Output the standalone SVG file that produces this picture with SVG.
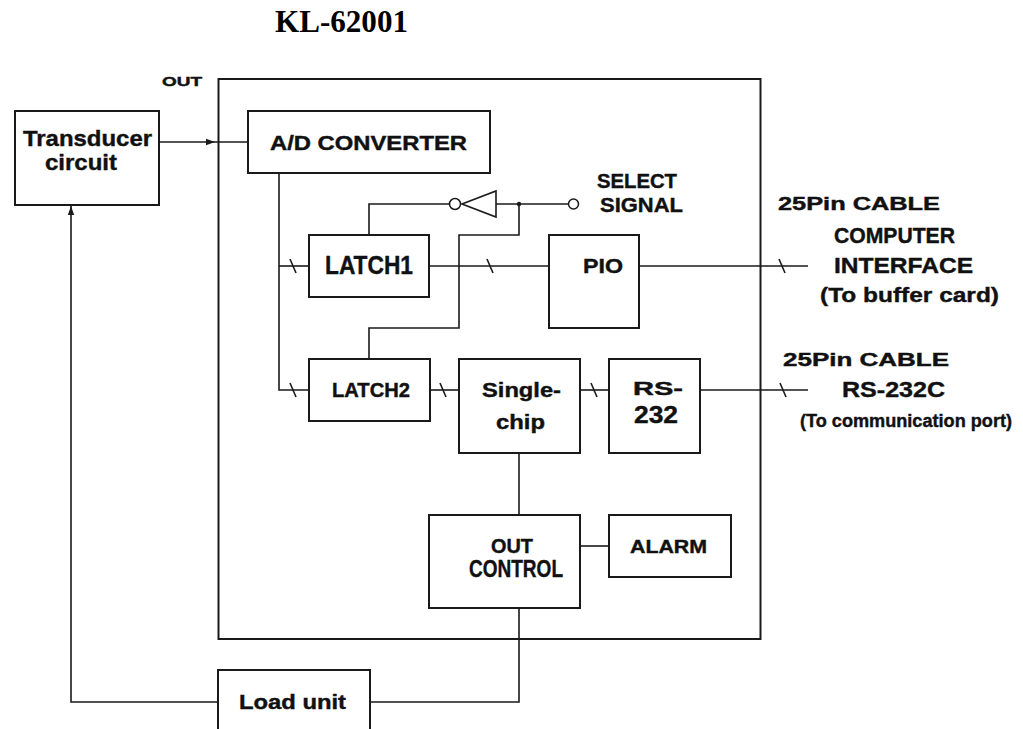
<svg xmlns="http://www.w3.org/2000/svg" width="1023" height="729" viewBox="0 0 1023 729">
<style>
.box{fill:none;stroke:#1a1a1a;stroke-width:2}
.ln{fill:none;stroke:#1a1a1a;stroke-width:1.6}
.t{font-family:"Liberation Sans",Arial,sans-serif;font-weight:bold;fill:#111;stroke:#111;stroke-width:0.4}
.title{font-family:"Liberation Serif","Times New Roman",serif;font-weight:bold;fill:#000}
</style>
<defs>
<marker id="arr" viewBox="0 0 10 10" refX="10" refY="5" markerWidth="9" markerHeight="9" markerUnits="userSpaceOnUse" orient="auto">
<path d="M0,1.5 L10,5 L0,8.5 Z" fill="#1a1a1a"/>
</marker>
<path id="sl" d="M-3,-7 L3,7" stroke="#1a1a1a" stroke-width="1.6" fill="none"/>
</defs>
<rect width="1023" height="729" fill="#fff"/>
<text class="title" x="275" y="32" font-size="31" textLength="133" lengthAdjust="spacingAndGlyphs">KL-62001</text>

<g id="enclosure">
<rect class="box" x="218.5" y="79" width="542" height="560"/>
<text class="t" x="162" y="86" font-size="12.5" textLength="40" lengthAdjust="spacingAndGlyphs">OUT</text>
</g>

<g id="transducer">
<rect class="box" x="15" y="111" width="144" height="94"/>
<text class="t" x="23" y="146" font-size="22" textLength="129" lengthAdjust="spacingAndGlyphs">Transducer</text>
<text class="t" x="45" y="170" font-size="22" textLength="72" lengthAdjust="spacingAndGlyphs">circuit</text>
</g>

<g id="adc">
<rect class="box" x="248" y="111" width="242" height="62"/>
<text class="t" x="270" y="150" font-size="19.5" textLength="197" lengthAdjust="spacingAndGlyphs">A/D CONVERTER</text>
</g>

<g id="latch1">
<rect class="box" x="309" y="235" width="120" height="62"/>
<text class="t" x="325" y="274" font-size="25" textLength="88" lengthAdjust="spacingAndGlyphs">LATCH1</text>
</g>

<g id="pio">
<rect class="box" x="549" y="235" width="90" height="93"/>
<text class="t" x="583" y="273" font-size="20" textLength="40" lengthAdjust="spacingAndGlyphs">PIO</text>
</g>

<g id="latch2">
<rect class="box" x="309" y="359" width="121" height="62"/>
<text class="t" x="332" y="397" font-size="19.5" textLength="78" lengthAdjust="spacingAndGlyphs">LATCH2</text>
</g>

<g id="singlechip">
<rect class="box" x="459" y="359" width="121" height="94"/>
<text class="t" x="482" y="397" font-size="20" textLength="79" lengthAdjust="spacingAndGlyphs">Single-</text>
<text class="t" x="496" y="429" font-size="20" textLength="49" lengthAdjust="spacingAndGlyphs">chip</text>
</g>

<g id="rs232">
<rect class="box" x="609" y="359" width="91" height="94"/>
<text class="t" x="633" y="395" font-size="17.5" textLength="50" lengthAdjust="spacingAndGlyphs">RS-</text>
<text class="t" x="634" y="423" font-size="24" textLength="44" lengthAdjust="spacingAndGlyphs">232</text>
</g>

<g id="outcontrol">
<rect class="box" x="429" y="515" width="151" height="93"/>
<text class="t" x="491" y="553" font-size="21" textLength="42" lengthAdjust="spacingAndGlyphs">OUT</text>
<text class="t" x="469" y="577" font-size="24" textLength="94" lengthAdjust="spacingAndGlyphs">CONTROL</text>
</g>

<g id="alarm">
<rect class="box" x="609" y="515" width="122" height="62"/>
<text class="t" x="630" y="553" font-size="18" textLength="77" lengthAdjust="spacingAndGlyphs">ALARM</text>
</g>

<g id="loadunit">
<rect class="box" x="218" y="670" width="152" height="70"/>
<text class="t" x="239" y="709" font-size="20" textLength="107" lengthAdjust="spacingAndGlyphs">Load unit</text>
</g>

<g id="select-signal">
<circle cx="573.5" cy="204" r="5" fill="#fff" stroke="#1a1a1a" stroke-width="1.5"/>
<text class="t" x="597" y="188" font-size="21" textLength="80" lengthAdjust="spacingAndGlyphs">SELECT</text>
<text class="t" x="600" y="212" font-size="21" textLength="83" lengthAdjust="spacingAndGlyphs">SIGNAL</text>
</g>

<g id="inverter">
<path d="M462,204 L496,191 L496,217 Z" fill="#fff" stroke="#1a1a1a" stroke-width="1.6"/>
<circle cx="455" cy="204" r="5.5" fill="#fff" stroke="#1a1a1a" stroke-width="1.5"/>
</g>

<g id="computer-interface">
<text class="t" x="778" y="210" font-size="18" textLength="162" lengthAdjust="spacingAndGlyphs">25Pin CABLE</text>
<text class="t" x="834" y="243" font-size="22" textLength="121" lengthAdjust="spacingAndGlyphs">COMPUTER</text>
<text class="t" x="834" y="273" font-size="22" textLength="139" lengthAdjust="spacingAndGlyphs">INTERFACE</text>
<text class="t" x="820" y="302" font-size="21" textLength="179" lengthAdjust="spacingAndGlyphs">(To buffer card)</text>
</g>

<g id="comm-port">
<text class="t" x="783" y="366" font-size="18" textLength="166" lengthAdjust="spacingAndGlyphs">25Pin CABLE</text>
<text class="t" x="842" y="397" font-size="22" textLength="103" lengthAdjust="spacingAndGlyphs">RS-232C</text>
<text class="t" x="800" y="427" font-size="18" textLength="212" lengthAdjust="spacingAndGlyphs">(To communication port)</text>
</g>

<g id="connectors">
<path class="ln" d="M159,142 H215" marker-end="url(#arr)"/>
<path class="ln" d="M215,142 H248"/>
<path class="ln" d="M279,173 V390 H309"/>
<path class="ln" d="M279,266 H309"/>
<path class="ln" d="M429,266 H549"/>
<path class="ln" d="M639,266 H808"/>
<path class="ln" d="M430,390 H459"/>
<path class="ln" d="M580,390 H609"/>
<path class="ln" d="M700,390 H808"/>
<path class="ln" d="M449.5,204 H369 V235"/>
<path class="ln" d="M496,204 H568.5"/>
<circle cx="519" cy="204" r="2.2" fill="#1a1a1a"/>
<path class="ln" d="M519,204 V235 H459 V328 H369 V359"/>
<path class="ln" d="M519,453 V515"/>
<path class="ln" d="M580,546 H609"/>
<path class="ln" d="M519,608 V702 H370"/>
<path class="ln" d="M218,702 H71 V206" marker-end="url(#arr)"/>
<use href="#sl" x="293" y="266"/>
<use href="#sl" x="490" y="266"/>
<use href="#sl" x="782" y="266"/>
<use href="#sl" x="293" y="390"/>
<use href="#sl" x="443" y="390"/>
<use href="#sl" x="594" y="390"/>
<use href="#sl" x="783" y="390"/>
</g>
</svg>
